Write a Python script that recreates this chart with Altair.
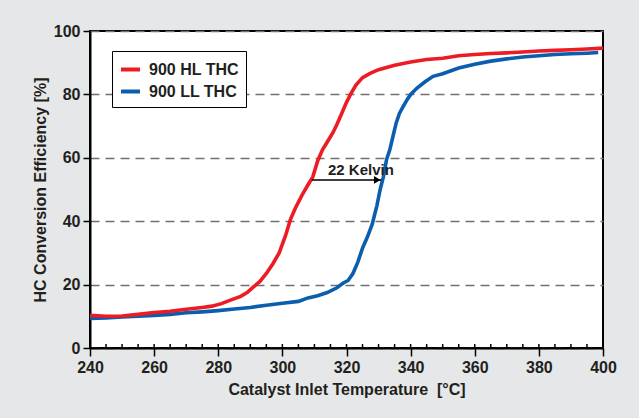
import altair as alt
import pandas as pd

# ---- data ----
hl_temp = [240, 245, 250, 255, 260, 265, 270, 275, 278, 281, 284, 287, 289, 291, 293, 295, 297, 299,
           301, 302.5, 304, 306, 308, 309.5, 311, 312.5, 314, 315.8, 317, 318.5, 320, 321.5, 323, 325,
           327.5, 330, 335, 340, 345, 350, 355, 360, 365, 370, 375, 380, 385, 390, 395, 400]
hl_eff = [10.3, 10.0, 10.1, 10.6, 11.2, 11.6, 12.2, 12.8, 13.2, 14.0, 15.2, 16.3, 17.5, 19.3, 21.0, 23.5,
          26.5, 30.0, 35.5, 40.5, 44.0, 48.0, 51.5, 54.0, 59.0, 62.5, 65.0, 68.0, 70.5, 74.0, 77.5, 80.5,
          83.0, 85.3, 86.7, 87.8, 89.2, 90.2, 91.0, 91.4, 92.2, 92.6, 92.9, 93.1, 93.4, 93.7, 93.9, 94.1,
          94.3, 94.6]

ll_temp = [240, 245, 250, 255, 260, 265, 270, 275, 280, 285, 290, 295, 300, 305, 308, 311, 314, 317,
           319, 320.5, 322, 323.5, 325, 326.5, 328, 329.5, 330.5, 331.5, 332.5, 333.5, 334.5, 335.5,
           336.5, 337.7, 339, 340, 342, 344.5, 347, 350, 355, 360, 365, 370, 375, 380, 385, 390, 395, 398.5]
ll_eff = [9.3, 9.5, 9.8, 10.0, 10.3, 10.6, 11.1, 11.4, 11.8, 12.3, 12.8, 13.5, 14.1, 14.7, 15.8, 16.5,
          17.5, 19.0, 20.5, 21.3, 23.5, 27.0, 31.5, 35.0, 39.0, 45.0, 50.0, 54.0, 59.5, 62.5, 66.8, 71.0,
          74.0, 76.2, 78.5, 80.0, 82.0, 84.0, 85.7, 86.5, 88.3, 89.5, 90.5, 91.2, 91.8, 92.2, 92.6, 92.8,
          93.0, 93.2]

series_names = ["900 HL THC", "900 LL THC"]
series_colors = ["#ED1C24", "#0B5DAD"]

x_ticks = [240, 260, 280, 300, 320, 340, 360, 380, 400]
x_minor_ticks = list(range(240, 401, 5))
y_ticks = [0, 20, 40, 60, 80, 100]

arrow_start = 309.2
arrow_end = 330.8
arrow_level = 53.0
arrow_label = "22 Kelvin"
label_x = 324.5
label_y = 56.0

FONT = "Liberation Sans"
INK = "#231f20"

# ---- tables ----
hl_df = pd.DataFrame({"T": hl_temp, "eff": hl_eff, "series": series_names[0]})
ll_df = pd.DataFrame({"T": ll_temp, "eff": ll_eff, "series": series_names[1]})
minor_df = pd.DataFrame({"T": x_minor_ticks})
arrow_df = pd.DataFrame({"x": [arrow_start], "x2": [arrow_end], "y": [arrow_level]})
head_df = pd.DataFrame({"x": [arrow_end - 1.2], "y": [arrow_level]})
label_df = pd.DataFrame({"x": [label_x], "y": [label_y], "text": [arrow_label]})

x_scale = alt.Scale(domain=[240, 400], nice=False, zero=False)
y_scale = alt.Scale(domain=[0, 100], nice=False)

x_axis = alt.Axis(values=x_ticks, title="Catalyst Inlet Temperature\u00a0\u00a0[°C]", grid=False,
                  tickSize=8, tickWidth=1.5, tickColor="black", domainColor="black", domainWidth=2,
                  labelFontSize=16, labelFontWeight="bold", labelColor=INK, labelPadding=3,
                  titleFontSize=16, titleFontWeight="bold", titleColor=INK, titlePadding=6,
                  labelFlush=False)
y_axis = alt.Axis(values=y_ticks, title="HC Conversion Efficiency [%]", grid=True,
                  gridDash=[9, 6], gridColor="#707070", gridWidth=1.3,
                  tickSize=7, tickWidth=1.5, tickColor="black", domainColor="black", domainWidth=2,
                  labelFontSize=16, labelFontWeight="bold", labelColor=INK, labelPadding=3,
                  titleFontSize=16, titleFontWeight="bold", titleColor=INK, titlePadding=5)

color = alt.Color("series:N",
                  scale=alt.Scale(domain=series_names, range=series_colors),
                  legend=alt.Legend(title=None, orient="none", legendX=22, legendY=20,
                                    symbolType="stroke", symbolSize=361, symbolStrokeWidth=4,
                                    labelFontSize=16, labelFontWeight="bold", labelColor=INK,
                                    labelOffset=7, rowPadding=2, padding=7,
                                    strokeColor="black", fillColor="white"))

base_axes = alt.Chart(hl_df).mark_line(strokeWidth=3.6).encode(
    x=alt.X("T:Q", scale=x_scale, axis=x_axis),
    y=alt.Y("eff:Q", scale=y_scale, axis=y_axis),
    color=color,
)

ll_line = alt.Chart(ll_df).mark_line(strokeWidth=3.6).encode(
    x=alt.X("T:Q", scale=x_scale),
    y=alt.Y("eff:Q", scale=y_scale),
    color=color,
)

inner_ticks = alt.Chart(minor_df).mark_rule(color="black", strokeWidth=1.5).encode(
    x=alt.X("T:Q", scale=x_scale),
    y=alt.value(317),
    y2=alt.value(313),
)

arrow = alt.Chart(arrow_df).mark_rule(color="black", strokeWidth=1.3).encode(
    x=alt.X("x:Q", scale=x_scale),
    x2="x2:Q",
    y=alt.Y("y:Q", scale=y_scale),
)

head = alt.Chart(head_df).mark_point(shape="triangle-right", filled=True, color="black",
                                     size=60, opacity=1).encode(
    x=alt.X("x:Q", scale=x_scale),
    y=alt.Y("y:Q", scale=y_scale),
)

label = alt.Chart(label_df).mark_text(font=FONT, fontSize=15, fontWeight="bold", color=INK,
                                      align="center", baseline="middle").encode(
    x=alt.X("x:Q", scale=x_scale),
    y=alt.Y("y:Q", scale=y_scale),
    text="text:N",
)

chart = alt.layer(ll_line, base_axes, inner_ticks, arrow, head, label).properties(
    width=513, height=317,
    padding={"left": 90, "top": 31, "right": 36, "bottom": 70},
    autosize=alt.AutoSizeParams(type="none"),
    background="#e6e7e8",
).configure(font=FONT).configure_view(
    fill="white", stroke="black", strokeWidth=2,
)

chart.save("out.html", embed_options={"renderer": "svg", "actions": False})
